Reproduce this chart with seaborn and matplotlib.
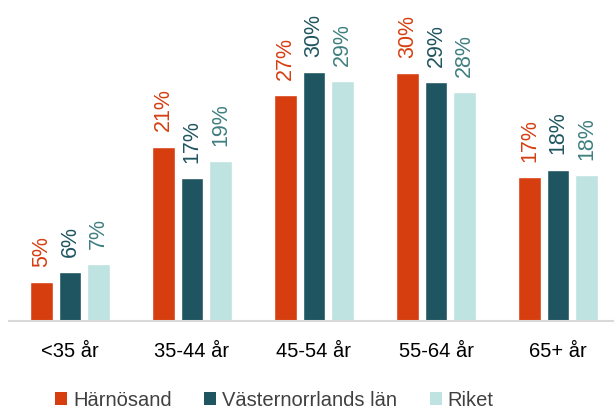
import pandas as pd
import matplotlib.pyplot as plt
import seaborn as sns
from matplotlib.patches import Patch

# data (percent)
categories = ['<35 år', '35-44 år', '45-54 år', '55-64 år', '65+ år']
series = ['Härnösand', 'Västernorrlands län', 'Riket']
harnosand = [4.7, 21.1, 27.3, 30.0, 17.4]
vasternorrland = [5.9, 17.3, 30.1, 28.9, 18.3]
riket = [6.9, 19.3, 29.0, 27.7, 17.6]

bar_colors = ['#D63E10', '#1F5560', '#BFE3E0']
label_colors = ['#D63E10', '#1F5560', '#3F7F80']

df = pd.DataFrame({
    'kategori': categories * 3,
    'serie': [s for s in series for _ in categories],
    'andel': harnosand + vasternorrland + riket,
})

sns.set_style('white')
plt.rcParams['font.family'] = ['Liberation Sans', 'DejaVu Sans']

fig = plt.figure(figsize=(6.14, 4.12), dpi=100)
ax = fig.add_axes([9 / 614, 91 / 412, 605 / 614, 321 / 412])

sns.barplot(data=df, x='kategori', y='andel', hue='serie', order=categories,
            hue_order=series, palette=bar_colors, width=0.7, gap=0.2,
            saturation=1, legend=False, ax=ax)

# percentage labels, rotated, coloured per series
for cont, col in zip(ax.containers, label_colors):
    ax.bar_label(cont, labels=[f'{round(v)}%' for v in cont.datavalues],
                 rotation=90, padding=11, color=col, fontsize=15.5)

ax.set_xlim(-0.5, -0.5 + 605 / 122)
ax.set_ylim(0, 321 / 8.27)
ax.set_xlabel('')
ax.set_ylabel('')
ax.set_yticks([])
ax.tick_params(axis='x', length=0, pad=15, labelsize=14.5, labelcolor='black')
for side in ['top', 'right', 'left']:
    ax.spines[side].set_visible(False)
ax.spines['bottom'].set_color('#D9D9D9')
ax.spines['bottom'].set_linewidth(1.5)

handles = [Patch(facecolor=c, edgecolor='none', label=s) for c, s in zip(bar_colors, series)]
fig.legend(handles=handles, loc='center', bbox_to_anchor=(0.447, 0.028), ncol=3,
           frameon=False, fontsize=14.5, handlelength=0.6, handleheight=0.6,
           handletextpad=0.3, columnspacing=1.6, labelcolor='#404040',
           borderaxespad=0, borderpad=0)

fig.savefig('out.png', dpi=100)
